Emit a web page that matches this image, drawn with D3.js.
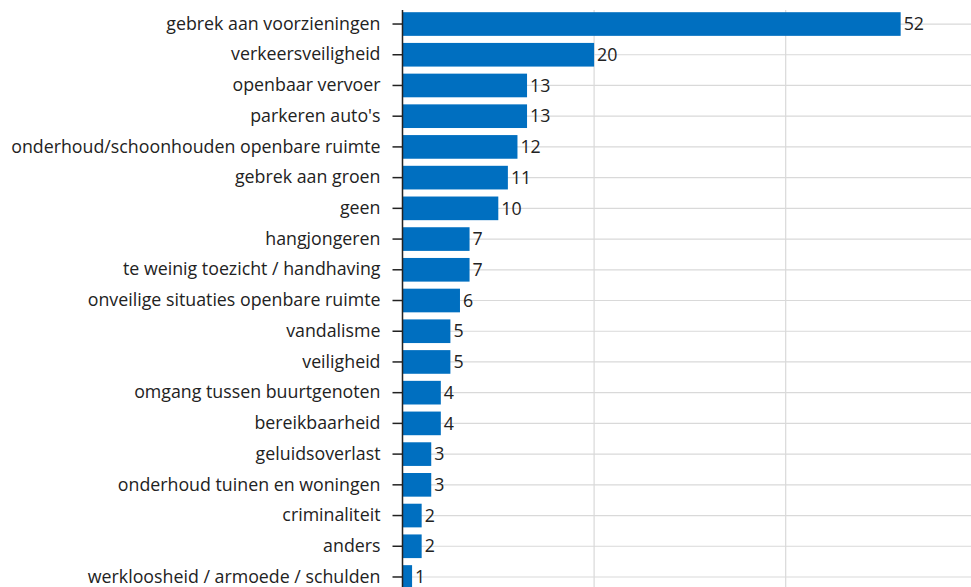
<!DOCTYPE html>
<html><head><meta charset="utf-8">
<script src="https://cdn.jsdelivr.net/npm/d3@7"></script>
<style>body{margin:0;background:#fff}svg{display:block}</style>
</head><body>
<svg id="c" width="971" height="587"></svg>
<script>
const categories = ["gebrek aan voorzieningen","verkeersveiligheid","openbaar vervoer","parkeren auto's","onderhoud/schoonhouden openbare ruimte","gebrek aan groen","geen","hangjongeren","te weinig toezicht / handhaving","onveilige situaties openbare ruimte","vandalisme","veiligheid","omgang tussen buurtgenoten","bereikbaarheid","geluidsoverlast","onderhoud tuinen en woningen","criminaliteit","anders","werkloosheid / armoede / schulden"];
const values = [52,20,13,13,12,11,10,7,7,6,5,5,4,4,3,3,2,2,1];
const xTicks = [0,20,40,60];

const svg = d3.select("#c");
const x0 = 402.5;
const x = d3.scaleLinear().domain([0,60]).range([x0, x0 + 60*9.58]);
const y = d3.scaleBand().domain(categories).range([12.2, 12.2 + 30.72*(19-0.23)]).paddingInner(0.23).paddingOuter(0);
const font = "'Open Sans', sans-serif";
const fs = 17.8;

// vertical gridlines
svg.append("g").selectAll("line").data(xTicks).join("line")
  .attr("x1", d=>x(d)).attr("x2", d=>x(d)).attr("y1", 10).attr("y2", 587)
  .attr("stroke", "#d9d9d9").attr("stroke-width", 1.2);
// horizontal gridlines
svg.append("g").selectAll("line").data(categories).join("line")
  .attr("x1", x0).attr("x2", 971)
  .attr("y1", d=>y(d)+y.bandwidth()/2).attr("y2", d=>y(d)+y.bandwidth()/2)
  .attr("stroke", "#d9d9d9").attr("stroke-width", 1.2);

// bars
svg.append("g").selectAll("rect").data(categories).join("rect")
  .attr("x", x(0)).attr("y", d=>y(d)).attr("height", y.bandwidth())
  .attr("width", (d,i)=>x(values[i])-x(0)).attr("fill", "#006fc0");

// value labels
svg.append("g").selectAll("text").data(categories).join("text")
  .attr("x", (d,i)=>x(values[i])+3).attr("y", d=>y(d)+y.bandwidth()/2)
  .attr("dy", "0.35em").attr("font-family", font).attr("font-size", fs)
  .attr("fill", "#222").text((d,i)=>values[i]);

// y axis
const ax = svg.append("g").attr("transform", `translate(${x0},0)`)
  .call(d3.axisLeft(y).tickSize(10).tickPadding(12));
ax.select(".domain").remove();
ax.selectAll(".tick line").attr("stroke", "#222").attr("stroke-width", 1.5);
ax.selectAll(".tick text").attr("font-family", font).attr("font-size", fs).attr("fill", "#222");
svg.append("line").attr("x1", x0).attr("x2", x0).attr("y1", 10).attr("y2", 587)
  .attr("stroke", "#222").attr("stroke-width", 1.5);
</script>
</body></html>
